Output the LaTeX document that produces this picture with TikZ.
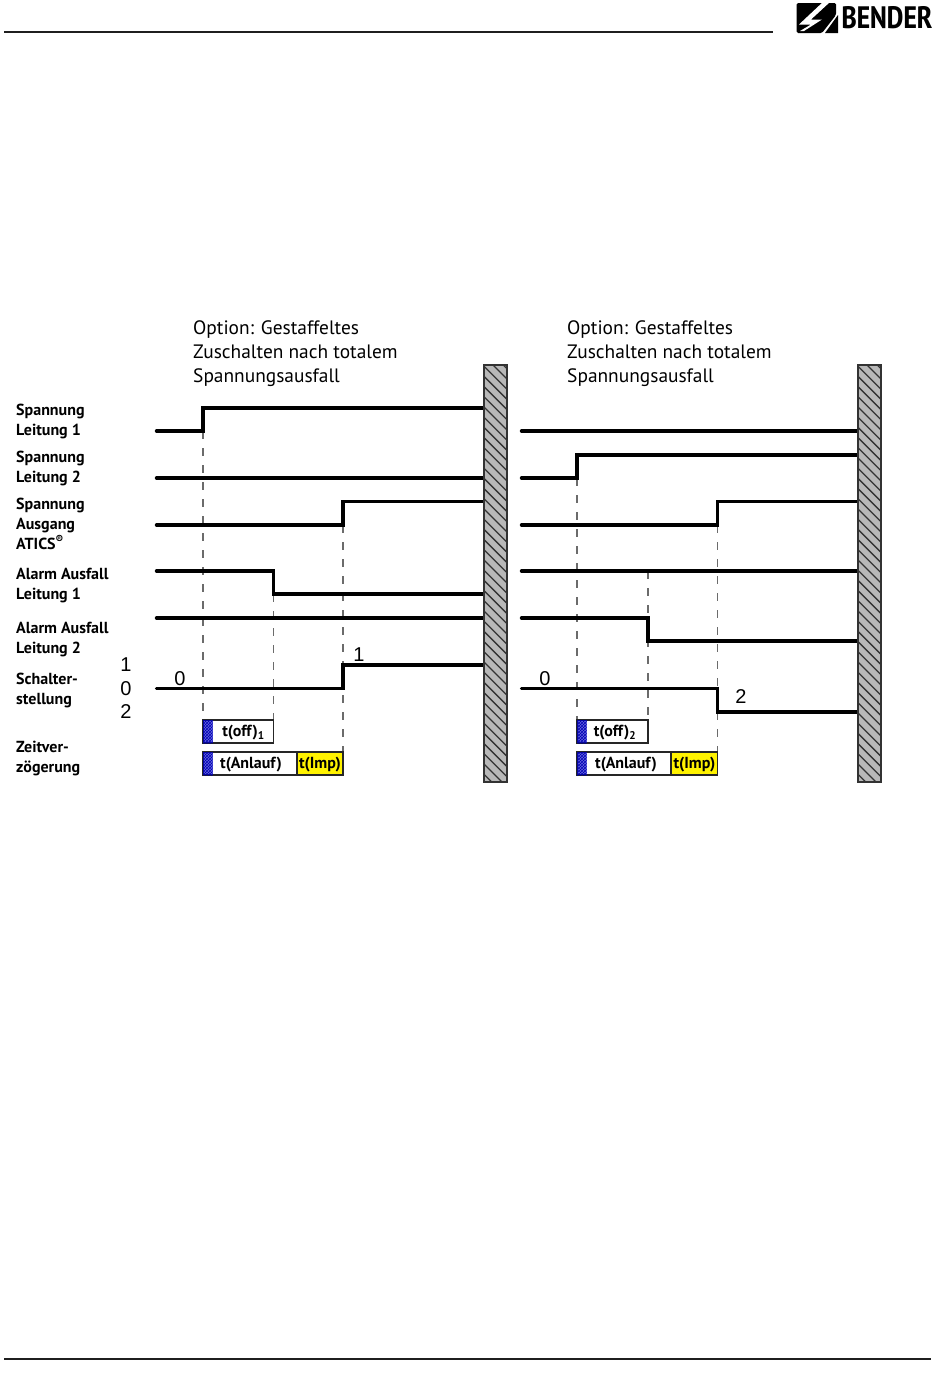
\documentclass[tikz,border=0pt]{standalone}
\usepackage{fontspec}
\setmainfont{PT Sans}
\newfontfamily\numfont{Liberation Sans}
\newfontfamily\logofont{PT Sans Narrow}
\usetikzlibrary{patterns}
\tikzset{
  x=1pt,y=-1pt,
  rulebar/.style={line width=2pt,draw=black!88},
  signal/.style={line width=3.4pt,draw=black,line cap=round,line join=miter},
  guide/.style={line width=1.9pt,draw=black!58,dash pattern=on 8pt off 9pt},
  caption/.style={anchor=north west,align=left,font=\fontsize{19.4}{24}\selectfont,inner sep=0pt},
  siglabel/.style={anchor=north west,align=left,font=\fontsize{16}{20}\selectfont\bfseries,inner sep=0pt},
  num/.style={font=\fontsize{20}{20}\selectfont\numfont,inner sep=0pt},
  wallface/.style={fill=black!28},
  wallline/.style={draw=black!80,line width=1.3pt},
  walledge/.style={draw=black!80,line width=1.4pt},
  timebox/.style={draw=black!85,line width=1.2pt,fill=white},
  bluebox/.style={fill=blue!80!black,pattern=crosshatch,pattern color=blue!55!black},
  impbox/.style={draw=black!85,line width=1.2pt,fill=yellow},
  boxtext/.style={font=\fontsize{16}{16}\selectfont\bfseries,inner sep=0pt}
}
\begin{document}
\begin{tikzpicture}
\useasboundingbox (0,0) rectangle (950,1392);
\fill[white] (0,0) rectangle (950,1392);
% header / footer
\coordinate (hl) at (4,32); \coordinate (hr) at (773,32);
\coordinate (fl) at (4,1359); \coordinate (fr) at (931,1359);
\draw[rulebar] (hl) -- (hr);
\draw[rulebar] (fl) -- (fr);
% logo
\fill[black,rounded corners=1.5pt] (796.5,3) -- (836,3) -- (836,15) -- (822,33) -- (796.5,33) -- cycle;
\fill[black] (838,15) -- (838,33) -- (825,33) -- cycle;
\fill[white] (823,2) -- (830,2) -- (811,19.5) -- (822,19.5) -- (804,31) -- (800,31) -- (811,24.5) -- (799,24.5) -- cycle;
\node[anchor=west,inner sep=0pt,font=\fontsize{31}{31}\selectfont\bfseries] (logo) at (841.5,18) {\logofont BENDER};
% captions
\node[caption] (cap1) at (193,320) {Option: Gestaffeltes\\Zuschalten nach totalem\\Spannungsausfall};
\node[caption] (cap2) at (567,320) {Option: Gestaffeltes\\Zuschalten nach totalem\\Spannungsausfall};
% labels
\node[siglabel] (l1) at (16,404) {Spannung\\Leitung 1};
\node[siglabel] (l2) at (16,451) {Spannung\\Leitung 2};
\node[siglabel] (l3) at (16,498) {Spannung\\Ausgang\\ATICS\textsuperscript{®}};
\node[siglabel] (l4) at (16,568) {Alarm Ausfall\\Leitung 1};
\node[siglabel] (l5) at (16,622) {Alarm Ausfall\\Leitung 2};
\node[siglabel] (l6) at (16,673) {Schalter-\\stellung};
\node[siglabel] (l7) at (16,741) {Zeitver-\\zögerung};
\node[num] (n1) at (126,665) {1};
\node[num] (n0) at (126,689) {0};
\node[num] (n2) at (126,712) {2};
% walls
\coordinate (w1a) at (484,365); \coordinate (w1b) at (507,782);
\coordinate (w2a) at (858,365); \coordinate (w2b) at (881,782);
% guides
\foreach \x/\t/\b/\n in {203/431/720/a,273.5/594/720/b,343/525/752/c,577/478/720/d,648/571/720/e,717.5/525/752/f}{
  \coordinate (g\n t) at (\x,\t); \coordinate (g\n b) at (\x,\b);
  \draw[guide] (g\n t) -- (g\n b);
}
% signals left
\draw[signal] (156.5,431) -- (203,431) -- (203,408) -- (484,408);
\draw[signal] (156.5,478) -- (484,478);
\draw[signal] (156.5,525) -- (343,525) -- (343,501.5) -- (484,501.5);
\draw[signal] (156.5,571) -- (273.5,571) -- (273.5,594) -- (484,594);
\draw[signal] (156.5,618) -- (484,618);
\draw[signal] (156.5,688.5) -- (343,688.5) -- (343,665) -- (484,665);
% signals right
\draw[signal] (521.5,431) -- (858,431);
\draw[signal] (521.5,478) -- (577,478) -- (577,455) -- (858,455);
\draw[signal] (521.5,525) -- (717.5,525) -- (717.5,501.5) -- (858,501.5);
\draw[signal] (521.5,571) -- (858,571);
\draw[signal] (521.5,618) -- (648,618) -- (648,641) -- (858,641);
\draw[signal] (521.5,688.5) -- (717.5,688.5) -- (717.5,712) -- (858,712);
% hatched walls
\foreach \a/\b/\xl in {w1a/w1b/484,w2a/w2b/858}{
  \fill[wallface] (\a) rectangle (\b);
  \begin{scope}
    \clip (\a) rectangle (\b);
    \foreach \k in {-2,...,44}{
      \draw[wallline] (\xl-1,355+\k*10.2) -- ++(26,26);
    }
  \end{scope}
  \draw[walledge] (\a) rectangle (\b);
}
\node[num] (z1) at (180,679) {0};
\node[num] (o1) at (359,655) {1};
\node[num] (z2) at (545,679) {0};
\node[num] (t2) at (741,697) {2};
% time boxes left
\draw[timebox] (203,720) rectangle (273.5,743);
\fill[bluebox] (203,720) rectangle (212.5,743);
\fill[blue!80!black,opacity=0.6] (203,720) rectangle (212.5,743);
\node[boxtext] (t1) at (243.5,732.5) {t(off)\textsubscript{1}};
\draw[timebox] (203,752) rectangle (297,775);
\fill[bluebox] (203,752) rectangle (212.5,775);
\fill[blue!80!black,opacity=0.6] (203,752) rectangle (212.5,775);
\node[boxtext] (t2a) at (251,764.5) {t(Anlauf)};
\draw[impbox] (297,752) rectangle (343,775);
\node[boxtext] (t3) at (320,764.5) {t(Imp)};
% time boxes right
\draw[timebox] (577,720) rectangle (648,743);
\fill[bluebox] (577,720) rectangle (586.5,743);
\fill[blue!80!black,opacity=0.6] (577,720) rectangle (586.5,743);
\node[boxtext] (t4) at (615,732.5) {t(off)\textsubscript{2}};
\draw[timebox] (577,752) rectangle (671,775);
\fill[bluebox] (577,752) rectangle (586.5,775);
\fill[blue!80!black,opacity=0.6] (577,752) rectangle (586.5,775);
\node[boxtext] (t5) at (626,764.5) {t(Anlauf)};
\draw[impbox] (671,752) rectangle (717.5,775);
\node[boxtext] (t6) at (694.5,764.5) {t(Imp)};
\end{tikzpicture}
\end{document}
